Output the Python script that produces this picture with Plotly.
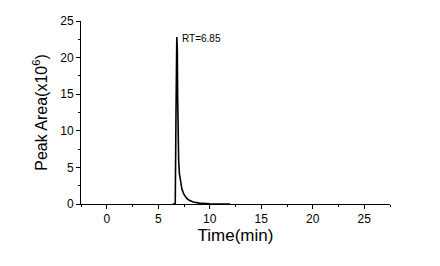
import plotly.graph_objects as go

time_min = [6.4, 6.65, 6.72, 6.8, 6.85, 6.88, 6.92, 6.98, 7.05, 7.15, 7.3, 7.5, 7.75, 8.0, 8.4, 9.0, 9.5, 10.0, 11.0, 12.0]
peak_area = [0.0, 0.0, 12.0, 22.8, 21.0, 15.0, 9.5, 6.0, 4.2, 3.0, 2.0, 1.3, 0.8, 0.5, 0.28, 0.12, 0.06, 0.03, 0.01, 0.0]
x_ticks = [0, 5, 10, 15, 20, 25]
y_ticks = [0, 5, 10, 15, 20, 25]

fig = go.Figure()
fig.add_trace(go.Scatter(x=time_min, y=peak_area, mode="lines",
                         line=dict(color="black", width=1.6), showlegend=False))

fig.add_annotation(x=7.15, y=22.6, text="RT=6.85", showarrow=False,
                   xanchor="left", yanchor="middle",
                   font=dict(family="Liberation Sans, Arial", size=10, color="black"))

fig.update_layout(
    width=440, height=266,
    margin=dict(l=81, r=50, t=21, b=62),
    paper_bgcolor="white", plot_bgcolor="white",
    font=dict(family="Liberation Sans, Arial", color="black"),
)
fig.update_xaxes(range=[-2.5, 27.5], tickvals=x_ticks, ticks="outside", ticklen=4,
                 tickwidth=1, tickcolor="black", showline=True, linecolor="black",
                 linewidth=1, showgrid=False, zeroline=False,
                 minor=dict(tickvals=[-2.5, 2.5, 7.5, 12.5, 17.5, 22.5, 27.5], ticks="outside", ticklen=2, tickcolor="black"),
                 tickfont=dict(size=12),
                 title=dict(text="Time(min)", font=dict(size=17), standoff=3))
fig.update_yaxes(range=[0, 25], tickvals=y_ticks, ticks="outside", ticklen=4,
                 tickwidth=1, tickcolor="black", showline=True, linecolor="black",
                 linewidth=1, showgrid=False, zeroline=False,
                 minor=dict(tickvals=[2.5, 7.5, 12.5, 17.5, 22.5], ticks="outside", ticklen=2, tickcolor="black"),
                 tickfont=dict(size=12),
                 title=dict(text="Peak Area(x10<sup>6</sup>)", font=dict(size=16), standoff=8))

fig.write_html("out.html")
